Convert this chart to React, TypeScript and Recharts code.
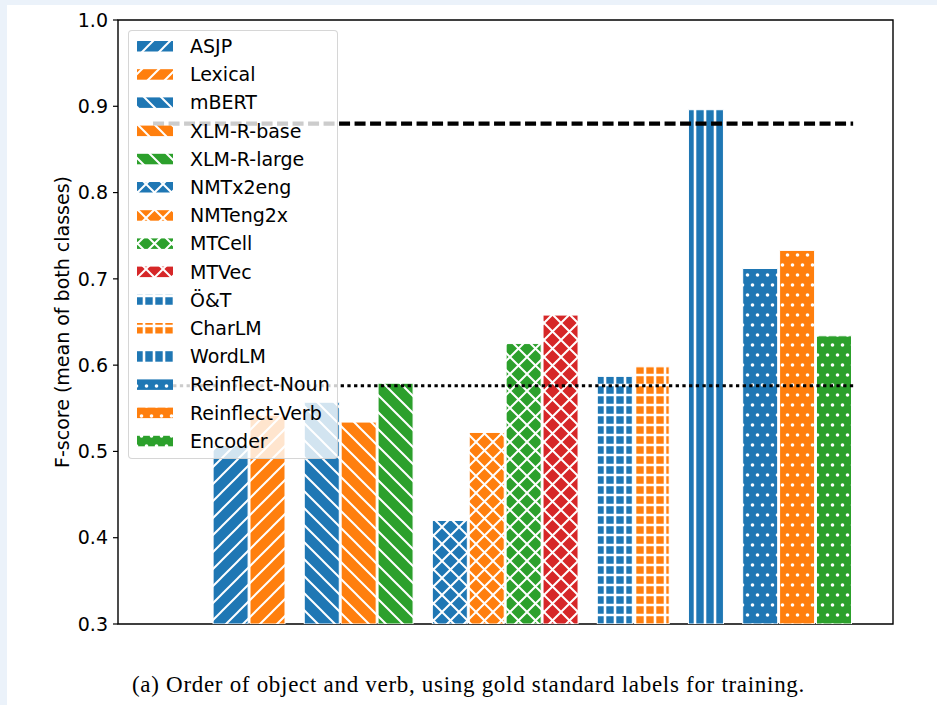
import React from 'react';
import {
  ComposedChart,
  Bar,
  Cell,
  XAxis,
  YAxis,
  ReferenceLine,
  ReferenceArea,
  Legend,
} from 'recharts';

// Feature sets, in plotting order
const categories = [
  'ASJP', 'Lexical',
  'mBERT', 'XLM-R-base', 'XLM-R-large',
  'NMTx2eng', 'NMTeng2x', 'MTCell', 'MTVec',
  'Ö&T', 'CharLM',
  'WordLM',
  'Reinflect-Noun', 'Reinflect-Verb', 'Encoder',
];

// F-score (mean of both classes) per feature set
const fScores = [
  0.507, 0.542,
  0.557, 0.534, 0.579,
  0.420, 0.522, 0.625, 0.658,
  0.587, 0.598,
  0.896,
  0.712, 0.733, 0.634,
];

// How many consecutive feature sets form each cluster of bars
const groupSizes = [2, 3, 4, 2, 1, 3];

// Colour key and hatch style per feature set
const colorKeys = [
  'blue', 'orange',
  'blue', 'orange', 'green',
  'blue', 'orange', 'green', 'red',
  'blue', 'orange',
  'blue',
  'blue', 'orange', 'green',
];
const hatchKeys = [
  '/', '/',
  '\\', '\\', '\\',
  'x', 'x', 'x', 'x',
  '+', '+',
  '|',
  '.', '.', '.',
];

// Reference scores drawn as horizontal lines
const dashedBaseline = 0.88;
const dottedBaseline = 0.576;

const yTicks = [0.3, 0.4, 0.5, 0.6, 0.7, 0.8, 0.9, 1.0];

const PALETTE: Record<string, string> = {
  blue: '#1f77b4',
  orange: '#ff7f0e',
  green: '#2ca02c',
  red: '#d62728',
};

// layout of the numeric x axis (one unit = distance between neighbouring bars)
const X_MAX = 21.0;
const FIRST_CENTER = 3.05;
const GROUP_GAP = 1.47;
const LINE_X0 = 0.95;
const LINE_X1 = 19.92;

const positions: number[] = [];
{
  let x = FIRST_CENTER;
  groupSizes.forEach((size, g) => {
    if (g > 0) x += GROUP_GAP - 1;
    for (let i = 0; i < size; i++) {
      positions.push(x);
      x += 1;
    }
  });
}

const barData = categories.map((name, i) => ({
  name,
  pos: positions[i],
  value: fScores[i],
}));

const FONT = '"DejaVu Sans", sans-serif';

function Hatch({ id, color, hatch }: { id: string; color: string; hatch: string }) {
  const white = '#ffffff';
  if (hatch === '/' || hatch === '\\' || hatch === 'x') {
    const P = 17;
    const fwd = `M${-3},${3} L${3},${-3} M0,${P} L${P},0 M${P - 3},${P + 3} L${P + 3},${P - 3}`;
    const back = `M${-3},${P - 3} L${3},${P + 3} M0,0 L${P},${P} M${P - 3},${-3} L${P + 3},${3}`;
    const d = hatch === '/' ? fwd : hatch === '\\' ? back : `${fwd} ${back}`;
    return (
      <pattern id={id} width={P} height={P} patternUnits="userSpaceOnUse">
        <rect width={P} height={P} fill={color} />
        <path d={d} stroke={white} strokeWidth={2} fill="none" />
      </pattern>
    );
  }
  if (hatch === '+') {
    return (
      <pattern id={id} width={10} height={10} patternUnits="userSpaceOnUse">
        <rect width={10} height={10} fill={color} />
        <path d="M0,5 H10 M5,0 V10" stroke={white} strokeWidth={2.6} fill="none" />
      </pattern>
    );
  }
  if (hatch === '|') {
    return (
      <pattern id={id} width={10} height={10} patternUnits="userSpaceOnUse">
        <rect width={10} height={10} fill={color} />
        <path d="M5,0 V10" stroke={white} strokeWidth={2.6} fill="none" />
      </pattern>
    );
  }
  return (
    <pattern id={id} width={10} height={20} patternUnits="userSpaceOnUse">
      <rect width={10} height={20} fill={color} />
      <circle cx={2.5} cy={5} r={1.8} fill={white} />
      <circle cx={7.5} cy={15} r={1.8} fill={white} />
    </pattern>
  );
}

const patternId = (i: number) => `hatch-${i}`;

function LegendBox() {
  const rowGap = 28.2;
  return (
    <div
      style={{
        width: 210,
        height: 429,
        boxSizing: 'border-box',
        background: 'rgba(255,255,255,0.8)',
        border: '1.3px solid rgba(204,204,204,0.8)',
        borderRadius: 4,
      }}
    >
      <svg width={208} height={427} style={{ display: 'block' }}>
        {categories.map((name, i) => {
          const cy = 15 + i * rowGap;
          return (
            <g key={name}>
              <rect x={8} y={cy - 5} width={36} height={10.5} fill={`url(#${patternId(i)})`} />
              <text
                x={61}
                y={cy}
                dominantBaseline="central"
                fontFamily={FONT}
                fontSize={19}
                fill="#000"
              >
                {name}
              </text>
            </g>
          );
        })}
      </svg>
    </div>
  );
}

export default function App() {
  return (
    <div
      style={{
        position: 'absolute',
        left: 0,
        top: 0,
        width: 937,
        height: 705,
        background: '#ebf2fa',
        overflow: 'hidden',
      }}
    >
      <div
        style={{
          position: 'absolute',
          left: 7,
          top: 5,
          right: 0,
          bottom: 0,
          background: '#ffffff',
        }}
      />
      <div style={{ position: 'absolute', left: 0, top: 0 }}>
        <ComposedChart
          width={937}
          height={705}
          data={barData}
          margin={{ top: 20, right: 44, bottom: 81, left: 58 }}
        >
          <defs>
            {categories.map((_, i) => (
              <Hatch
                key={i}
                id={patternId(i)}
                color={PALETTE[colorKeys[i]]}
                hatch={hatchKeys[i]}
              />
            ))}
          </defs>
          <XAxis type="number" dataKey="pos" domain={[0, X_MAX]} hide allowDataOverflow />
          <YAxis
            type="number"
            domain={[0.3, 1.0]}
            ticks={yTicks}
            allowDataOverflow
            width={60}
            axisLine={false}
            tickLine={{ stroke: '#000', strokeWidth: 1.2 }}
            tickSize={5}
            tickMargin={5}
            tickFormatter={(v: number) => v.toFixed(1)}
            tick={{ fill: '#000', fontSize: 19, fontFamily: FONT }}
            label={{
              content: (props: any) => {
                const vb = props.viewBox || { y: 20, height: 604 };
                const cy = vb.y + vb.height / 2;
                return (
                  <text
                    transform={`translate(62, ${cy}) rotate(-90)`}
                    textAnchor="middle"
                    dominantBaseline="central"
                    fontFamily={FONT}
                    fontSize={19}
                    fill="#000"
                  >
                    F-score (mean of both classes)
                  </text>
                );
              },
            }}
          />
          <Bar
            dataKey="value"
            barSize={35}
            stroke="#ffffff"
            strokeWidth={1}
            isAnimationActive={false}
          >
            {barData.map((d, i) => (
              <Cell key={d.name} fill={`url(#${patternId(i)})`} />
            ))}
          </Bar>
          <ReferenceLine
            segment={[
              { x: LINE_X0, y: dashedBaseline },
              { x: LINE_X1, y: dashedBaseline },
            ]}
            stroke="#000"
            strokeWidth={4.3}
            strokeDasharray="11 4.5"
          />
          <ReferenceLine
            segment={[
              { x: LINE_X0, y: dottedBaseline },
              { x: LINE_X1, y: dottedBaseline },
            ]}
            stroke="#000"
            strokeWidth={3}
            strokeDasharray="3.3 3.4"
          />
          <ReferenceArea
            x1={0}
            x2={X_MAX}
            y1={0.3}
            y2={1.0}
            fill="none"
            stroke="#000"
            strokeWidth={1.4}
          />
          <Legend
            layout="vertical"
            align="center"
            verticalAlign="middle"
            wrapperStyle={{ left: 128, top: 30, width: 210, height: 429 }}
            content={() => <LegendBox />}
          />
        </ComposedChart>
      </div>
      <div
        style={{
          position: 'absolute',
          left: 0,
          top: 672,
          width: 937,
          textAlign: 'center',
          fontFamily: '"Liberation Serif", serif',
          fontSize: 23,
          letterSpacing: 0.7,
          color: '#000',
          whiteSpace: 'nowrap',
        }}
      >
        (a) Order of object and verb, using gold standard labels for training.
      </div>
    </div>
  );
}
